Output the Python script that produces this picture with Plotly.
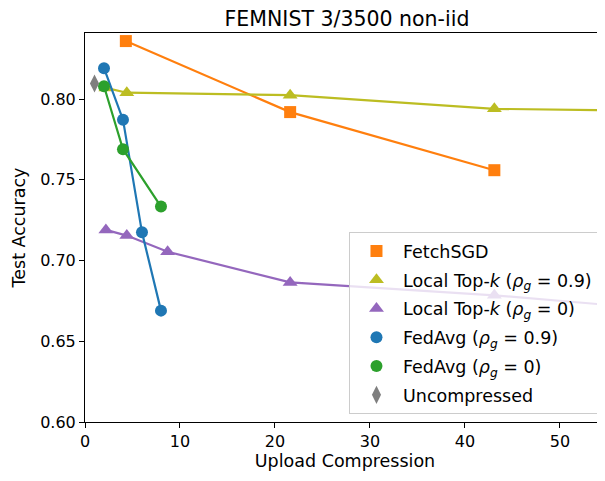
import plotly.graph_objects as go

title = "FEMNIST 3/3500 non-iid"
x_label = "Upload Compression"
y_label = "Test Accuracy"

fetch_x = [4.3, 21.6, 43.1]
fetch_y = [0.836, 0.792, 0.756]

topk09_x = [2.2, 4.4, 21.6, 43.1, 86.2]
topk09_y = [0.807, 0.804, 0.8025, 0.794, 0.791]

topk0_x = [2.2, 4.4, 8.7, 21.6, 43.1, 86.2]
topk0_y = [0.719, 0.7155, 0.7055, 0.6865, 0.6785, 0.657]

fedavg09_x = [2.0, 4.0, 6.0, 8.0]
fedavg09_y = [0.8192, 0.7873, 0.7175, 0.669]

fedavg0_x = [2.0, 4.0, 8.0]
fedavg0_y = [0.808, 0.769, 0.7335]

uncomp_x = [1.0]
uncomp_y = [0.8097]

names = [
    "FetchSGD",
    "Local Top-<i>k</i> (<i>ρ</i><sub><i>g</i></sub> = 0.9)",
    "Local Top-<i>k</i> (<i>ρ</i><sub><i>g</i></sub> = 0)",
    "FedAvg (<i>ρ</i><sub><i>g</i></sub> = 0.9)",
    "FedAvg (<i>ρ</i><sub><i>g</i></sub> = 0)",
    "Uncompressed",
]

series = [
    (fetch_x, fetch_y, "#ff7f0e", "square", 12),
    (topk09_x, topk09_y, "#bcbd22", "triangle-up", 13),
    (topk0_x, topk0_y, "#9467bd", "triangle-up", 13),
    (fedavg09_x, fedavg09_y, "#1f77b4", "circle", 12),
    (fedavg0_x, fedavg0_y, "#2ca02c", "circle", 12),
    (uncomp_x, uncomp_y, "#7f7f7f", "diamond-tall", 13),
]

fig = go.Figure()
for (xs, ys, c, sym, sz), nm in zip(series, names):
    fig.add_trace(go.Scatter(
        x=xs, y=ys, mode="lines+markers", showlegend=False,
        line=dict(color=c, width=2.2),
        marker=dict(color=c, symbol=sym, size=sz, line=dict(width=0)),
        cliponaxis=True,
    ))
for i, ((xs, ys, c, sym, sz), nm) in enumerate(zip(series, names)):
    fig.add_trace(go.Scatter(
        x=[None], y=[None], mode="markers", name=nm, legendgroup=f"g{i}",
        marker=dict(color=c, symbol=sym, size=sz, line=dict(width=0)),
    ))

# The page body adds an 8px offset, so the figure is sized to the visible area.
W, H = 597, 473
L, T, B = 77, 25, 59
font = "DejaVu Sans, sans-serif"
fig.update_layout(
    width=W, height=H,
    margin=dict(l=L, r=0, t=T, b=B),
    paper_bgcolor="white", plot_bgcolor="white",
    font=dict(family=font, size=16, color="black"),
    title=dict(text=title, x=339 / W, xanchor="center",
               y=1 - 11 / H, yanchor="middle",
               font=dict(size=20.5, family=font, color="black")),
    xaxis=dict(
        range=[0, 54.75], tickvals=[0, 10, 20, 30, 40, 50],
        showgrid=False, zeroline=False, showline=True, linecolor="black",
        linewidth=1, mirror=True, ticks="outside", ticklen=5, tickcolor="black",
        title=dict(text=x_label, standoff=3, font=dict(size=17.5)),
        tickfont=dict(size=16), automargin=False,
    ),
    yaxis=dict(
        range=[0.60, 0.841], tickvals=[0.60, 0.65, 0.70, 0.75, 0.80],
        tickformat=".2f",
        showgrid=False, zeroline=False, showline=True, linecolor="black",
        linewidth=1, mirror=True, ticks="outside", ticklen=5, tickcolor="black",
        title=dict(text=y_label, standoff=10, font=dict(size=17.5)),
        tickfont=dict(size=16), automargin=False,
    ),
    legend=dict(
        x=0.9865, y=0.02, xanchor="right", yanchor="bottom",
        bgcolor="rgba(255,255,255,0.8)", bordercolor="#cccccc", borderwidth=1,
        font=dict(size=17.5, family=font), tracegroupgap=3, itemwidth=43,
    ),
)

fig.write_html("out.html")
